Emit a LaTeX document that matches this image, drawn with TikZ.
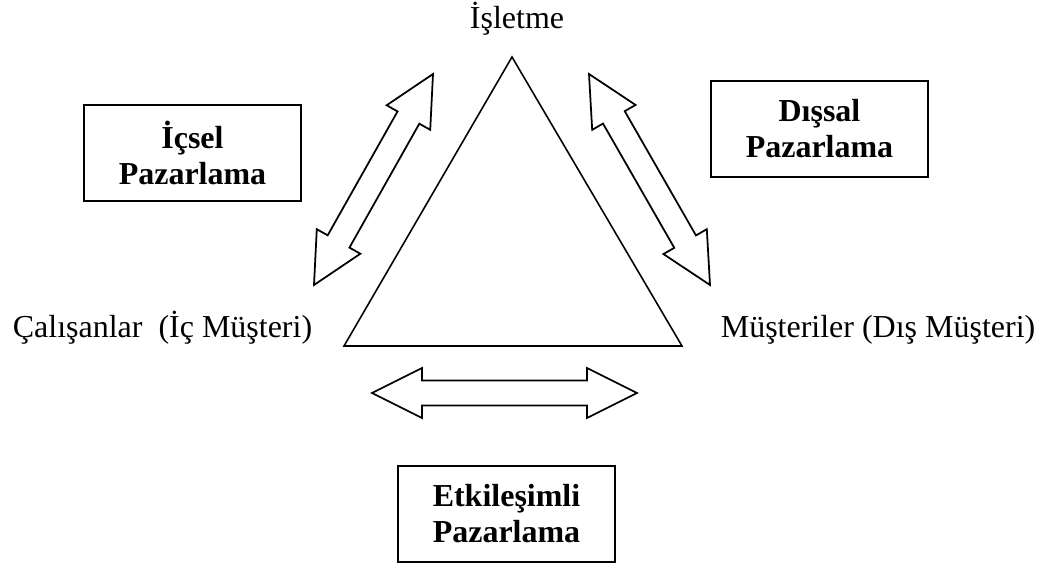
\documentclass[tikz,border=0pt]{standalone}
\usepackage{fontspec}
\setmainfont{Liberation Serif}
\usepackage{tikz}
\usetikzlibrary{calc}
\tikzset{
  vertex/.style={black, font=\fontsize{18.2}{20.5}\selectfont, inner sep=0pt},
  areabox/.style={draw, line width=1.2pt, minimum width=4.34cm, minimum height=1.92cm,
    align=center, font=\fontsize{18.2}{20.5}\selectfont\bfseries},
  side/.style={draw, line width=0.9pt, line join=miter},
  blockarrow/.style={draw, line width=1pt, line join=miter}
}
% double block arrow between two tips
\newcommand\dblarrow[2]{%
  \draw[blockarrow] (#1)
    -- ($(#1)!1cm!(#2)!0.5cm!90:(#2)$)
    -- ($(#1)!1cm!(#2)!0.25cm!90:(#2)$)
    -- ($(#2)!1cm!(#1)!0.25cm!-90:(#1)$)
    -- ($(#2)!1cm!(#1)!0.5cm!-90:(#1)$)
    -- (#2)
    -- ($(#2)!1cm!(#1)!0.5cm!90:(#1)$)
    -- ($(#2)!1cm!(#1)!0.25cm!90:(#1)$)
    -- ($(#1)!1cm!(#2)!0.25cm!-90:(#2)$)
    -- ($(#1)!1cm!(#2)!0.5cm!-90:(#2)$)
    -- cycle;}

\begin{document}
\begin{tikzpicture}
  \useasboundingbox (0,0) rectangle (20.92,11.36);
  % Triangle
  \coordinate (Top) at (10.24,10.22);
  \coordinate (Left) at (6.88,4.44);
  \coordinate (Right) at (13.64,4.44);
  \draw[side] (Top)--(Left)--(Right)--cycle;
  \node[vertex, anchor=base] (isletme) at (10.34,10.78) {İşletme};
  \node[vertex, anchor=base west] (calisan) at (0.25,4.62) {Çalışanlar~~(İç Müşteri)};
  \node[vertex, anchor=base west] (musteri) at (14.41,4.62) {Müşteriler (Dış Müşteri)};

  % Marketing boxes
  \node[areabox] (icsel) at (3.85,8.30) {İçsel\\Pazarlama};
  \node[areabox] (dissal) at (16.39,8.78) {Dışsal\\Pazarlama};
  \node[areabox] (etkilesim) at (10.13,1.08) {Etkileşimli\\Pazarlama};

  % Arrows
  \coordinate (icA) at (6.28,5.66);
  \coordinate (icB) at (8.66,9.88);
  \coordinate (disA) at (11.78,9.88);
  \coordinate (disB) at (14.2,5.66);
  \coordinate (etA) at (7.44,3.5);
  \coordinate (etB) at (12.74,3.5);
  \dblarrow{icA}{icB}
  \dblarrow{disA}{disB}
  \dblarrow{etA}{etB}
\end{tikzpicture}
\end{document}
